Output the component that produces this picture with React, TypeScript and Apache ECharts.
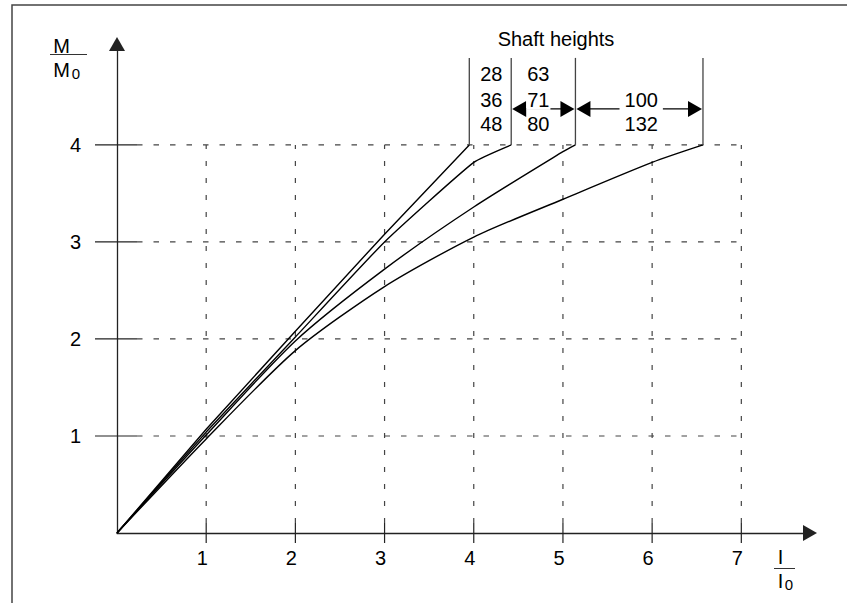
import React, { useEffect, useRef } from "react";
import * as echarts from "echarts";

// ---- data ----
const xTicks = [1, 2, 3, 4, 5, 6, 7];
const yTicks = [1, 2, 3, 4];
const xTickLabels = ["1", "2", "3", "4", "5", "6", "7"];
const yTickLabels = ["1", "2", "3", "4"];

// M/M0 vs I/I0 curves per shaft-height group
const curveA = [[0, 0], [1, 1.07], [2, 2.08], [3, 3.08], [3.95, 4]];
const curveB = [[0, 0], [1, 1.04], [2, 2.02], [3, 3.0], [4, 3.82], [4.42, 4]];
const curveC = [[0, 0], [1, 1.01], [2, 1.98], [3, 2.72], [4, 3.36], [5, 3.93], [5.14, 4]];
const curveD = [[0, 0], [1, 0.97], [2, 1.88], [3, 2.54], [4, 3.05], [5, 3.44], [6, 3.82], [6.57, 4]];

// x where each curve reaches M/M0 = 4 (bounds of the shaft-height groups)
const shaftBounds = [3.95, 4.42, 5.14, 6.57];
const shaftGroup1 = ["28", "36", "48"];
const shaftGroup2 = ["63", "71", "80"];
const shaftGroup3 = ["", "100", "132"];
const shaftGroups = [shaftGroup1, shaftGroup2, shaftGroup3];
const shaftTitle = "Shaft heights";

const FONT = '"Liberation Sans", Arial, sans-serif';
const FS = 20;

export default function App() {
  const ref = useRef<HTMLDivElement>(null);

  useEffect(() => {
    if (!ref.current) return;
    const chart = echarts.init(ref.current, null, { renderer: "svg" });

    const rowOffsets = [-71, -45, -21]; // px above the y=4 line
    const arrowOffset = -36;
    const lineTopOffset = -87;
    const textShift = [1, -5, 2];
    const textPad = [0, 1, 5];
    const gridColor = "#444";

    const gridX = {
      type: "custom",
      silent: true,
      z: 1,
      data: xTicks.map((v) => [v, 0]),
      renderItem: (params: any, api: any) => {
        const v = api.value(0);
        const p0 = api.coord([v, 0]);
        const p4 = api.coord([v, 4]);
        return {
          type: "group",
          children: [
            {
              type: "line",
              shape: { x1: p0[0], y1: p0[1] - 10, x2: p4[0], y2: p4[1] },
              style: { stroke: gridColor, lineWidth: 1.2, lineDash: [5, 12] },
            },
            {
              type: "line",
              shape: { x1: p0[0], y1: p0[1] - 10, x2: p0[0], y2: p0[1] + 10 },
              style: { stroke: "#222", lineWidth: 1.2 },
            },
          ],
        };
      },
    };

    const gridY = {
      type: "custom",
      silent: true,
      z: 1,
      data: yTicks.map((v) => [0, v]),
      renderItem: (params: any, api: any) => {
        const v = api.value(1);
        const p0 = api.coord([0, v]);
        const p7 = api.coord([7, v]);
        return {
          type: "group",
          children: [
            {
              type: "line",
              shape: { x1: p0[0] + 20, y1: p0[1], x2: p7[0], y2: p7[1] },
              style: { stroke: gridColor, lineWidth: 1.2, lineDash: [5.5, 11] },
            },
            {
              type: "line",
              shape: { x1: p0[0] - 22, y1: p0[1], x2: p0[0] + 20, y2: p0[1] },
              style: { stroke: "#222", lineWidth: 1.2 },
            },
          ],
        };
      },
    };

    const boundLines = {
      type: "custom",
      silent: true,
      z: 3,
      data: shaftBounds.map((b) => [b, 4]),
      renderItem: (params: any, api: any) => {
        const p = api.coord([api.value(0), api.value(1)]);
        return {
          type: "line",
          shape: { x1: p[0], y1: p[1], x2: p[0], y2: p[1] + lineTopOffset },
          style: { stroke: "#444", lineWidth: 1.3 },
        };
      },
    };

    const groupAnno = {
      type: "custom",
      silent: true,
      z: 4,
      data: shaftGroups.map((g, i) => [shaftBounds[i], 4, shaftBounds[i + 1], i]),
      renderItem: (params: any, api: any) => {
        const l = api.coord([api.value(0), 4]);
        const r = api.coord([api.value(2), 4]);
        const gi = api.value(3);
        const labels = shaftGroups[gi];
        const cx = (l[0] + r[0]) / 2 + textShift[gi];
        const children: any[] = [];
        if (gi > 0) {
          const ay = l[1] + arrowOffset;
          const x1 = l[0] + 1;
          const x2 = r[0] - 1;
          children.push({
            type: "line",
            shape: { x1: x1 + 10, y1: ay, x2: x2 - 10, y2: ay },
            style: { stroke: "#000", lineWidth: 1.2 },
          });
          children.push({
            type: "polygon",
            shape: { points: [[x1, ay], [x1 + 14, ay - 8], [x1 + 14, ay + 8]] },
            style: { fill: "#000" },
          });
          children.push({
            type: "polygon",
            shape: { points: [[x2, ay], [x2 - 14, ay - 8], [x2 - 14, ay + 8]] },
            style: { fill: "#000" },
          });
        }
        labels.forEach((t, k) => {
          if (!t) return;
          const onArrow = gi > 0 && k === 1;
          children.push({
            type: "text",
            x: cx,
            y: l[1] + rowOffsets[k],
            style: {
              text: t,
              align: "center",
              verticalAlign: "middle",
              fill: "#000",
              font: `${FS}px ${FONT}`,
              backgroundColor: onArrow ? "#fff" : undefined,
              padding: onArrow ? [0, textPad[gi]] : 0,
            },
          });
        });
        return { type: "group", children };
      },
    };

    const curveStyle = (data: number[][], smooth: number | boolean) => ({
      type: "line",
      data,
      symbol: "none",
      smooth,
      silent: true,
      z: 2,
      lineStyle: { color: "#000", width: 1.4 },
    });

    const txt = (text: string, x: number, y: number, size: number) => ({
      type: "text",
      x,
      y,
      silent: true,
      style: { text, align: "center", verticalAlign: "middle", fill: "#000", font: `${size}px ${FONT}` },
    });

    const option: any = {
      animation: false,
      backgroundColor: "#fff",
      grid: { left: 117, right: 37, top: 44, bottom: 70, containLabel: false },
      xAxis: {
        type: "value",
        min: 0,
        max: 7.77,
        interval: 1,
        axisLine: {
          show: true,
          onZero: true,
          symbol: ["none", "triangle"],
          symbolSize: [16, 14],
          lineStyle: { color: "#222", width: 1.3 },
        },
        axisTick: { show: false },
        splitLine: { show: false },
        axisLabel: {
          margin: 15,
          color: "#000",
          fontSize: FS,
          fontFamily: FONT,
          padding: [0, 8, 0, 0],
          showMaxLabel: false,
          formatter: (v: number) => {
            const i = xTicks.indexOf(Math.round(v));
            return i >= 0 && Math.abs(v - Math.round(v)) < 1e-6 ? xTickLabels[i] : "";
          },
        },
      },
      yAxis: {
        type: "value",
        min: 0,
        max: 5.04,
        interval: 1,
        axisLine: {
          show: true,
          symbol: ["none", "triangle"],
          symbolSize: [16, 14],
          lineStyle: { color: "#222", width: 1.3 },
        },
        axisTick: { show: false },
        splitLine: { show: false },
        axisLabel: {
          margin: 36,
          color: "#000",
          fontSize: FS,
          fontFamily: FONT,
          padding: [0, 0, 8, 0],
          showMaxLabel: false,
          formatter: (v: number) => {
            const i = yTicks.indexOf(Math.round(v));
            return i >= 0 && Math.abs(v - Math.round(v)) < 1e-6 ? yTickLabels[i] : "";
          },
        },
      },
      graphic: [
        {
          type: "rect",
          silent: true,
          shape: { x: 12, y: 5, width: 900, height: 700 },
          style: { fill: "none", stroke: "#444", lineWidth: 1.5 },
        },
        txt(shaftTitle, 556, 39, FS),
        txt("M", 61.5, 46, FS),
        { type: "line", silent: true, shape: { x1: 50, y1: 54.5, x2: 87, y2: 54.5 }, style: { stroke: "#333", lineWidth: 1 } },
        txt("M", 61.5, 70, FS),
        txt("0", 76, 73.5, 15),
        txt("I", 780.5, 557, FS),
        { type: "line", silent: true, shape: { x1: 774, y1: 568.5, x2: 795, y2: 568.5 }, style: { stroke: "#333", lineWidth: 1 } },
        txt("I", 780.5, 580.5, FS),
        txt("0", 789, 584, 15),
      ],
      series: [
        gridX,
        gridY,
        curveStyle(curveA, false),
        curveStyle(curveB, 0.15),
        curveStyle(curveC, 0.25),
        curveStyle(curveD, 0.25),
        boundLines,
        groupAnno,
      ],
    };

    chart.setOption(option);
    return () => chart.dispose();
  }, []);

  return (
    <div
      ref={ref}
      style={{ position: "absolute", left: 0, top: 0, width: 847, height: 603, background: "#fff" }}
    />
  );
}
